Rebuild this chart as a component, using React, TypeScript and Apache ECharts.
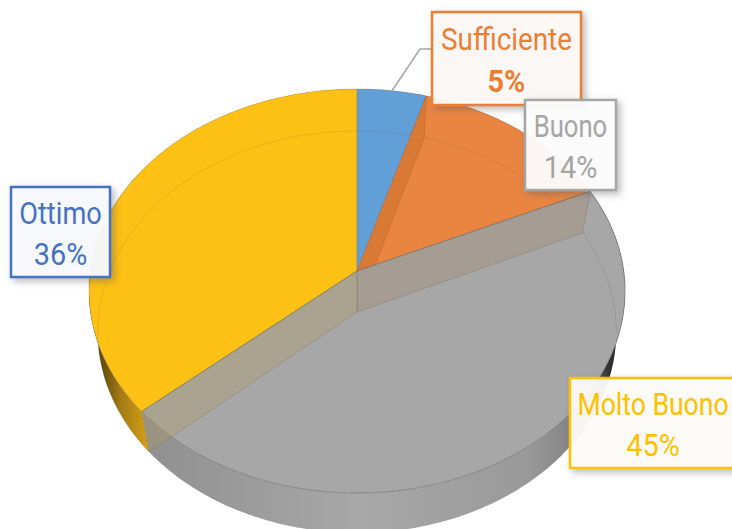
import React, { useEffect, useRef } from "react";
import * as echarts from "echarts";

const categories = ["Sufficiente", "Buono", "Molto Buono", "Ottimo"];
const values = [4.6, 13.6, 45.4, 36.4];
const percentLabels = ["5%", "14%", "45%", "36%"];
const sliceColors = ["#639FD7", "#E98541", "#A7A7A7", "#FDC015"];
const labelColors = ["#ED7D31", "#A5A5A5", "#FFC000", "#4472C4"];
const labelFills = ["rgba(254,250,247,0.93)", "rgba(254,254,254,0.93)", "rgba(254,253,249,0.93)", "rgba(249,251,255,0.93)"];
const labelBoxes = [
  [432, 12, 149, 93],
  [525, 100, 91, 90],
  [570, 378, 170, 90],
  [11, 187, 99, 90],
];
const nameScale = [0.87, 0.8, 0.83, 0.85];
const paintOrder = [3, 0, 1, 2];

const total = values.reduce((a, b) => a + b, 0);
const starts: number[] = [];
values.reduce((acc, v, i) => {
  starts[i] = acc;
  return acc + v;
}, 0);
const angle = (cum: number) => (cum / total) * Math.PI * 2;

const CX = 357;
const P = 0.099;
const FACES = [
  { cy: 271, a: 200, b: 266.7 },
  { cy: 312, a: 199, b: 258 },
];
const project = (t: number, z: number): number[] => {
  const u = Math.sin(t);
  const v = Math.cos(t);
  const w = 1 + P * v;
  const f = FACES[z];
  return [CX + (f.b * u) / w, f.cy - (f.a * v) / w];
};
const arc = (t0: number, t1: number, z: number): number[][] => {
  const n = Math.max(2, Math.ceil(Math.abs(t1 - t0) / 0.015));
  const pts: number[][] = [];
  for (let i = 0; i <= n; i++) pts.push(project(t0 + ((t1 - t0) * i) / n, z));
  return pts;
};
const hub = (z: number) => [CX, FACES[z].cy];
const range = (i: number) => [angle(starts[i]), angle(starts[i] + values[i])];

const grad = (stops: [number, string][]) =>
  new echarts.graphic.LinearGradient(0, 0, 1, 0, stops.map(([offset, color]) => ({ offset, color })));

const rimFills: any[] = [
  "#4E86BC",
  "#C9702F",
  grad([
    [0, "#8F8F8F"],
    [0.45, "#A8A8A8"],
    [0.8, "#999999"],
    [0.925, "#7C7C7C"],
    [0.965, "#333333"],
    [1, "#202020"],
  ]),
  grad([
    [0, "#2E2406"],
    [0.04, "#5E470C"],
    [0.12, "#A47C14"],
    [0.24, "#DCA616"],
    [1, "#DCA616"],
  ]),
];

const renderRim = (params: any) => {
  const i = params.dataIndex;
  const [t0, t1] = range(i);
  const points = [...arc(t0, t1, 0), ...arc(t1, t0, 1)];
  return { type: "polygon", shape: { points }, style: { fill: rimFills[i], stroke: "none" } };
};

const wall = (t: number, fill: string, stroke: string) => ({
  type: "polygon",
  shape: { points: [hub(0), project(t, 0), project(t, 1), hub(1)] },
  style: { fill, stroke, lineWidth: 1 },
});

const renderTop = (params: any) => {
  const i = paintOrder[params.dataIndex];
  const [t0, t1] = range(i);
  const children: any[] = [
    {
      type: "polygon",
      shape: { points: [hub(0), ...arc(t0, t1, 0)] },
      style: {
        fill: sliceColors[i],
        stroke: i === 2 ? "rgba(110,110,110,0.65)" : "rgba(120,100,70,0.25)",
        lineWidth: 1,
      },
    },
  ];
  if (i === 1) children.push(wall(t0, "#D87A35", "rgba(180,95,40,0.4)"));
  if (i === 2) {
    children.push(wall(t0, "rgba(162,135,105,0.3)", "rgba(125,115,105,0.4)"));
    children.push(wall(t1, "rgba(178,155,88,0.3)", "rgba(125,120,100,0.4)"));
  }
  // the far face, faintly visible through the translucent top
  children.push({
    type: "polyline",
    shape: { points: i === 2 ? arc(t0, angle(starts[2] + 8.5), 1) : arc(t0, t1, 1) },
    style: { fill: "none", stroke: i === 2 ? "rgba(90,90,90,0.18)" : "rgba(90,60,20,0.12)", lineWidth: 1 },
  });
  return { type: "group", children };
};

const FONT = 'Roboto, sans-serif';

const labelGraphics = () => {
  const out: any[] = [];
  const mid = angle(starts[0] + values[0] / 2);
  const tip = project(mid, 0);
  const [bx, by] = labelBoxes[0];
  out.push({
    type: "polyline",
    z: 10,
    silent: true,
    shape: { points: [tip, [420, by + 37], [bx, by + 37]] },
    style: { fill: "none", stroke: "#A6A6A6", lineWidth: 1.5 },
  });
  categories.forEach((name, i) => {
    const [x, y, w, h] = labelBoxes[i];
    const textCenter = i === 2 ? x + 83 : x + w / 2;
    out.push({
      type: "rect",
      z: 11,
      silent: true,
      shape: { x, y, width: w, height: h },
      style: {
        fill: labelFills[i],
        stroke: labelColors[i],
        lineWidth: 2.5,
        shadowBlur: 7,
        shadowOffsetX: 3,
        shadowOffsetY: 3,
        shadowColor: "rgba(90,90,90,0.45)",
      },
    });
    out.push({
      type: "text",
      z: 12,
      silent: true,
      x: textCenter,
      y: y + h * 0.29,
      scaleX: nameScale[i],
      style: {
        text: name,
        fill: labelColors[i],
        font: `32px ${FONT}`,
        textAlign: "center",
        textVerticalAlign: "middle",
      },
    });
    out.push({
      type: "text",
      z: 12,
      silent: true,
      x: textCenter,
      y: y + h * 0.74,
      scaleX: 0.9,
      style: {
        text: percentLabels[i],
        fill: labelColors[i],
        font: `${i === 0 ? "bold " : ""}32px ${FONT}`,
        textAlign: "center",
        textVerticalAlign: "middle",
      },
    });
  });
  return out;
};

export default function App() {
  const ref = useRef<HTMLDivElement>(null);
  useEffect(() => {
    const chart = echarts.init(ref.current!, null, { renderer: "svg" });
    chart.setOption({
      animation: false,
      backgroundColor: "#fff",
      series: [
        {
          type: "custom",
          name: "rim",
          coordinateSystem: "none",
          silent: true,
          z: 1,
          data: categories.map((name, i) => ({ name, value: [values[i]] })),
          renderItem: renderRim,
        },
        {
          type: "custom",
          name: "top",
          coordinateSystem: "none",
          silent: true,
          z: 2,
          data: paintOrder.map((i) => ({ name: categories[i], value: [values[i]] })),
          renderItem: renderTop,
        },
      ],
      graphic: { elements: labelGraphics() },
    });
    return () => chart.dispose();
  }, []);
  return <div ref={ref} style={{ position: "absolute", left: 0, top: 0, width: 732, height: 529 }} />;
}
